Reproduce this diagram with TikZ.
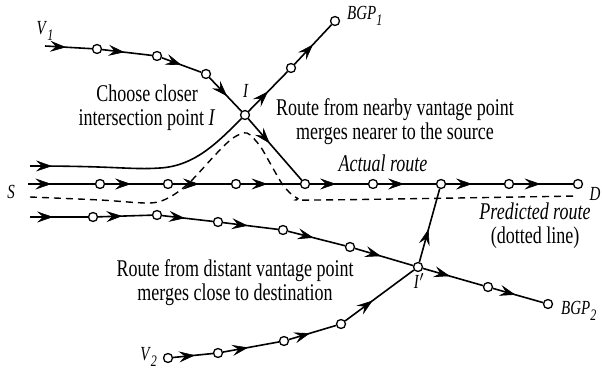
\documentclass[tikz,border=0pt]{standalone}
\usepackage{fontspec}
\setmainfont{Liberation Serif}[FakeStretch=0.75]
\usepackage{tikz}
\usetikzlibrary{arrows.meta,decorations.markings}
\tikzset{hop/.style={circle,draw,fill=white,line width=1.3pt,inner sep=0pt,minimum size=9pt}}
\tikzset{lab/.style={font=\fontsize{20}{20}\selectfont}}
\tikzset{mid/.style={postaction={decorate},decoration={markings,mark=at position #1 with {\arrow[line width=0.6pt]{Stealth[length=16pt,width=11pt,inset=6pt]}}}},mid/.default=0.5}
\def\idx#1{\raisebox{-0.6ex}{\fontsize{16}{16}\selectfont\itshape #1}}

\begin{document}
\begin{tikzpicture}[x=1pt,y=-1pt,line width=1.6pt,font=\fontsize{24}{24}\selectfont]
        \useasboundingbox (0,0) rectangle (602,371);
        \coordinate (V1s) at (45,46);
        \node[hop](V1a) at (97,49){};
        \node[hop](V1b) at (157,56){};
        \node[hop](V1c) at (206,74){};
        \node[hop](I) at (245,115){};
        \node[hop](B1a) at (291,68){};
        \node[hop](B1) at (335,21){};
        \coordinate (S0) at (28,184);
        \foreach \x [count=\i] in {100,168,236,305,373,441,509,578}
          \node[hop](r\i) at (\x,184){};
        \coordinate (C0) at (30,166);
        \coordinate (P0) at (30,197);
        \coordinate (P1) at (578,196);
        \coordinate (L0) at (30,217);
        \node[hop](L1) at (93,217){};
        \node[hop](L2) at (157,215){};
        \node[hop](L3) at (218,222){};
        \node[hop](L4) at (283,230){};
        \node[hop](L5) at (350,247){};
        \node[hop](Ip) at (418,267){};
        \node[hop](B2a) at (488,287){};
        \node[hop](B2) at (548,304){};
        \node[hop](V2a) at (168,358){};
        \node[hop](V2b) at (218,353){};
        \node[hop](V2c) at (284,341){};
        \node[hop](V2d) at (341,324){};

        \node[lab](V1) at (45,31){\textit{V}\idx{1}};
        \node[lab](Ilab) at (246,91){\textit{I}};
        \node[lab,anchor=west](BGP1) at (343,16){\textit{BGP}\idx{1}};
        \node[lab](S) at (11,192){\textit{S}};
        \node[lab](D) at (595,194){\textit{D}};
        \node[lab,anchor=west](BGP2) at (557,311){\textit{BGP}\idx{2}};
        \node[lab,anchor=east](V2) at (161,357){\textit{V}\idx{2}};
        \node[lab](Iplab) at (419,281){\textit{I}$'$};
        \node[align=center](choose) at (147,108){Choose closer\\intersection point \textit{I}};
        \node[align=center](nearby) at (395,122){Route from nearby vantage point\\merges nearer to the source};
        \node(actual) at (383,163){\textit{Actual route}};
        \node[align=center](pred) at (535,226){\textit{Predicted route}\\(dotted line)};
        \node[align=center](distant) at (235,283){Route from distant vantage point\\merges close to destination};

        \draw[]
        (V1s) edge[mid=0.45] (V1a)
        (V1a) edge[mid=0.45] (V1b)
        (V1b) edge[mid] (V1c)
        (V1c) edge[mid=0.55] (I)
        (I) edge[mid=0.5] (B1a)
        (B1a) edge[mid] (B1)
        (I) edge[mid=0.4] (r4);
        \draw[mid=0.35] (S0) -- (r1);
        \foreach \i [count=\j from 2] in {1,...,7}
          \draw[mid=0.45] (r\i) -- (r\j);
        \draw[mid=22pt]
        (C0) .. controls (120,166) and (130,170) .. (160,168) .. controls (195,166) and (218,142) .. (I);
        \draw[dashed,dash pattern=on 7pt off 5pt,line width=1.4pt]
        plot[smooth,tension=0.5] coordinates {(P0) (100,200) (150,203) (170,197) (190,182) (217,153) (233,138) (247,133) (260,146) (270,163) (283,185) (297,198) (320,200) (P1)};
        \draw[]
        (L0) edge[mid=0.4] (L1)
        (L1) edge[mid=0.45] (L2)
        (L2) edge[mid=0.45] (L3)
        (L3) edge[mid=0.45] (L4)
        (L4) edge[mid=0.45] (L5)
        (L5) edge[mid=0.45] (Ip)
        (Ip) edge[mid=0.45] (B2a)
        (B2a) edge[mid=0.45] (B2)
        (V2a) edge[mid=0.55] (V2b)
        (V2b) edge[mid=0.45] (V2c)
        (V2c) edge[mid=0.45] (V2d)
        (V2d) edge[mid=0.4] (Ip)
        (Ip) edge[mid=0.45] (r6);
      \end{tikzpicture}
\end{document}
